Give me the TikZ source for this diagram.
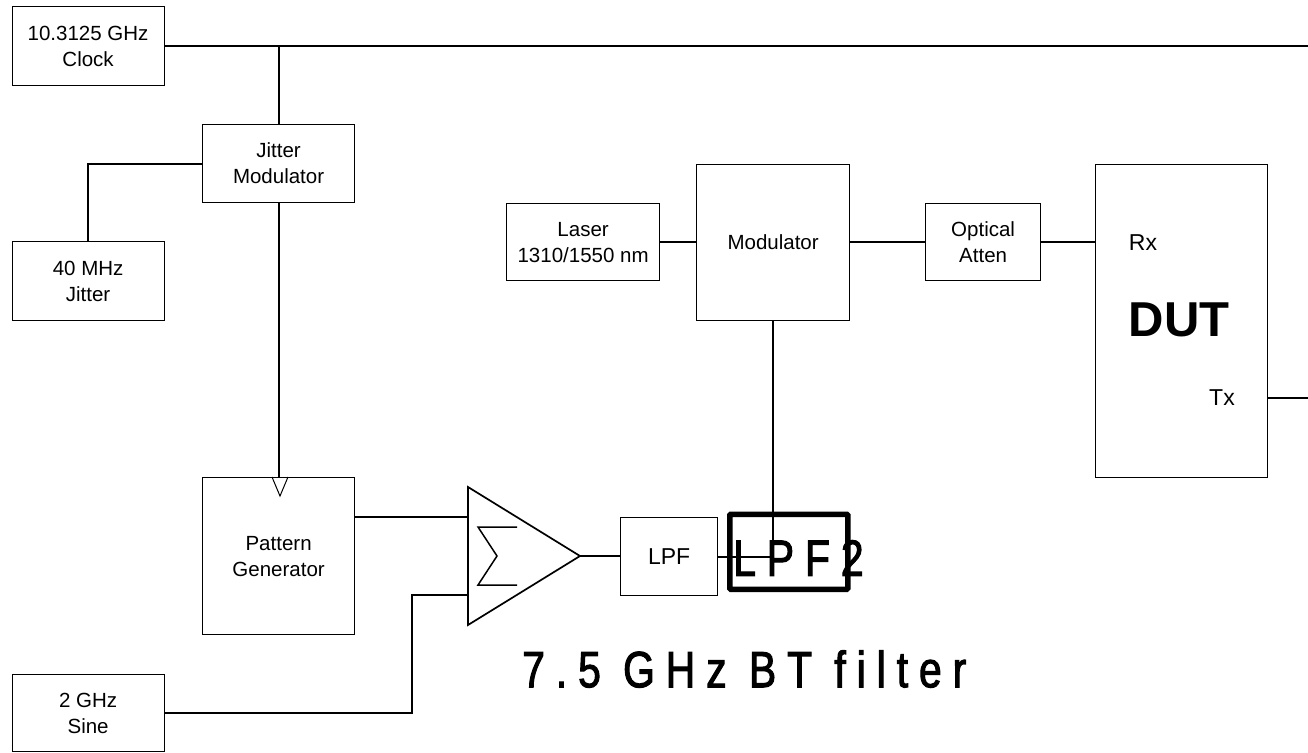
\documentclass[tikz,border=0pt]{standalone}
\usepackage{fontspec}
\setmainfont{Liberation Sans}
\newfontfamily\spacedfont[FakeStretch=0.8,LetterSpace=21.5,FakeBold=2]{Liberation Sans}
\tikzset{
  x=1pt,y=-1pt,
  blockbox/.style={draw,line width=1.2pt,inner sep=0pt,align=center,font=\fontsize{20.5}{26}\selectfont},
  wire/.style={line width=1.9pt},
  plain/.style={inner sep=0pt,font=\fontsize{23}{27}\selectfont},
}
\begin{document}
\begin{tikzpicture}
\useasboundingbox (0,0) rectangle (1308,752);
\node[blockbox,anchor=north west,minimum width=152pt,minimum height=79pt] (clock) at (11.5,6) {10.3125 GHz\\Clock};
\node[blockbox,anchor=north west,minimum width=152pt,minimum height=78pt] (jmod) at (202,124) {Jitter\\Modulator};
\node[blockbox,anchor=north west,minimum width=152pt,minimum height=79pt] (jit) at (11.5,241) {40 MHz\\Jitter};
\node[blockbox,anchor=north west,minimum width=152pt,minimum height=157pt] (pat) at (202,477) {Pattern\\Generator};
\node[blockbox,anchor=north west,minimum width=152pt,minimum height=77pt] (sine) at (11.5,674) {2 GHz\\Sine};
\node[blockbox,anchor=north west,minimum width=97pt,minimum height=78pt,font=\fontsize{23}{27}\selectfont] (lpf) at (620,517) {LPF};
\node[blockbox,anchor=north west,minimum width=153pt,minimum height=77pt] (laser) at (506,203) {Laser\\1310/1550 nm};
\node[blockbox,anchor=north west,minimum width=153pt,minimum height=156pt] (mod) at (696,164) {Modulator};
\node[blockbox,anchor=north west,minimum width=115pt,minimum height=77pt] (att) at (925,203) {Optical\\Atten};
\node[blockbox,anchor=north west,minimum width=172pt,minimum height=313pt] (dut) at (1095,164) {};
\node[plain] (rx) at (1143,243) {Rx};
\node[plain] (tx) at (1222,398) {Tx};
\node[inner sep=0pt,font=\fontsize{49}{50}\selectfont\bfseries] (dutlabel) at (1179,320) {DUT};
% summing amplifier
\coordinate (amptop) at (468,487);
\coordinate (ampbot) at (468,625);
\coordinate (ampout) at (580,556);
\coordinate (ampin1) at (468,517);
\coordinate (ampin2) at (468,595);
\draw[line width=1.7pt,line join=miter] (amptop) -- (ampbot) -- (ampout) -- cycle;
\draw[line width=1.5pt] (517,527) -- (478,527) -- (497,556) -- (478,585) -- (517,585);
% clock marker on the pattern generator
\draw[line width=1pt] (272,477) -- (280,496) -- (288,477);
% wires
\coordinate (clkend) at (1308,46);
\coordinate (txend) at (1308,398);
\draw[wire] (clock.east) -- (clkend |- clock.east);
\draw[wire] (jmod.north |- clock.east) -- (jmod.north);
\draw[wire] (jmod.west) -| (jit.north);
\draw[wire] (jmod.south) -- (pat.north);
\draw[wire] (pat.east |- ampin1) -- (ampin1);
\draw[wire] (sine.east) -| (412,595) -- (ampin2);
\draw[wire] (ampout) -- (lpf.west |- ampout);
\draw[wire] (lpf.east) -| (mod.south);
\draw[wire] (laser.east) -- (mod.west |- laser.east);
\draw[wire] (mod.east |- att.west) -- (att.west);
\draw[wire] (att.east) -- (dut.west |- att.east);
\draw[wire] (dut.east |- txend) -- (txend);
% LPF2 block and caption
\node[draw,line width=5.5pt,rounded corners=1pt,anchor=north west,minimum width=118pt,minimum height=75pt] (lpftwo) at (727,511.5) {};
\node[anchor=west,inner sep=0pt,font=\spacedfont\fontsize{51}{51}\selectfont] (lpftwotext) at (733,558) {LPF2};
\node[anchor=west,inner sep=0pt,font=\spacedfont\fontsize{51}{51}\selectfont] (caption) at (522,669) {7.5 GHz BT filter};
\end{tikzpicture}
\end{document}
